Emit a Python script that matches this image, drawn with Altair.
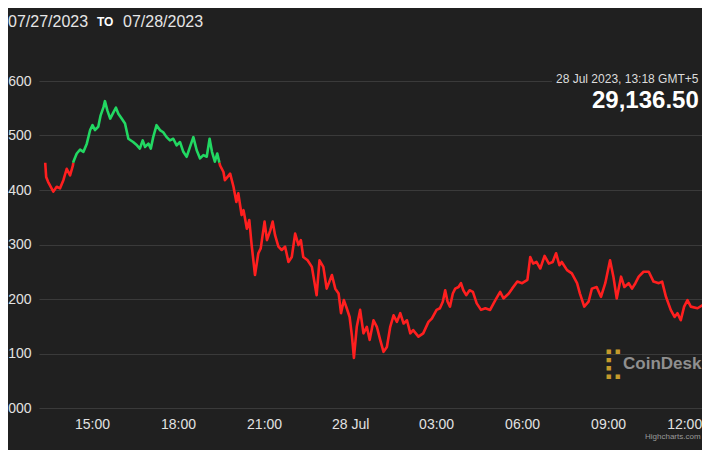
import altair as alt
import pandas as pd

# ---- data (minutes since 27 Jul 2023 00:00 UTC, price in USD) ----
minutes = [802, 804, 808, 819, 826, 833, 840, 847, 854, 860, 861, 868, 875, 882, 889, 896, 901, 906, 913, 918,
           924, 927, 932, 938, 945, 950, 955, 962, 969, 976, 986, 994, 1000, 1006, 1011, 1018, 1023, 1028, 1035, 1042,
           1049, 1056, 1063, 1070, 1077, 1084, 1091, 1098, 1105, 1112, 1119, 1126, 1133, 1140, 1146, 1151, 1157, 1162, 1168, 1175,
           1178, 1189, 1196, 1202, 1206, 1213, 1217, 1224, 1229, 1234, 1241, 1248, 1253, 1261, 1266, 1273, 1278, 1283, 1290, 1297,
           1304, 1311, 1318, 1325, 1332, 1337, 1342, 1351, 1360, 1370, 1376, 1384, 1391, 1402, 1409, 1416, 1421, 1427, 1433, 1439,
           1444, 1448, 1454, 1461, 1468, 1475, 1481, 1489, 1496, 1503, 1510, 1517, 1524, 1531, 1538, 1545, 1552, 1559, 1566, 1572,
           1583, 1593, 1604, 1611, 1621, 1628, 1634, 1639, 1644, 1649, 1655, 1660, 1667, 1672, 1677, 1683, 1690, 1697, 1705, 1714,
           1723, 1733, 1744, 1754, 1761, 1772, 1779, 1790, 1800, 1811, 1817, 1823, 1830, 1838, 1847, 1856, 1864, 1871, 1878, 1883,
           1894, 1904, 1915, 1921, 1930, 1939, 1946, 1956, 1965, 1974, 1984, 1991, 1998, 2007, 2014, 2023, 2030, 2037, 2044, 2054,
           2065, 2075, 2086, 2093, 2101, 2111, 2119, 2125, 2132, 2139, 2146, 2153, 2167, 2178, 2188, 2195]
prices = [29450, 29424, 29415, 29397, 29406, 29403, 29418, 29439, 29427, 29445, 29452, 29467, 29474, 29470, 29485, 29510, 29519, 29510, 29516, 29537,
          29552, 29563, 29546, 29531, 29543, 29551, 29540, 29531, 29522, 29494, 29488, 29482, 29476, 29491, 29479, 29485, 29476, 29497, 29519, 29510,
          29506, 29497, 29491, 29494, 29482, 29488, 29470, 29461, 29479, 29497, 29473, 29458, 29464, 29461, 29494, 29470, 29452, 29467, 29445, 29433,
          29418, 29430, 29406, 29378, 29394, 29354, 29363, 29329, 29345, 29299, 29244, 29284, 29293, 29342, 29308, 29326, 29342, 29317, 29296, 29290,
          29296, 29268, 29277, 29320, 29299, 29308, 29277, 29271, 29259, 29207, 29271, 29259, 29219, 29244, 29219, 29210, 29174, 29198, 29183, 29167,
          29131, 29092, 29149, 29180, 29137, 29149, 29125, 29161, 29149, 29125, 29103, 29112, 29149, 29170, 29158, 29174, 29155, 29161, 29137, 29143,
          29131, 29137, 29158, 29164, 29180, 29183, 29195, 29216, 29195, 29186, 29210, 29219, 29222, 29229, 29216, 29207, 29216, 29213, 29192, 29180,
          29183, 29180, 29198, 29213, 29201, 29210, 29219, 29232, 29229, 29235, 29277, 29265, 29268, 29256, 29279, 29265, 29268, 29284, 29262, 29268,
          29253, 29247, 29229, 29210, 29186, 29195, 29219, 29222, 29204, 29229, 29271, 29241, 29201, 29241, 29222, 29229, 29219, 29229, 29241, 29250,
          29250, 29232, 29229, 29232, 29204, 29180, 29167, 29174, 29161, 29186, 29198, 29186, 29183, 29189, 29183, 29186]

THRESHOLD = 29450          # opening price: above = green, below = red
y_ticks = [29000, 29100, 29200, 29300, 29400, 29500, 29600]
x_tick_hours = [(27, 15), (27, 18), (27, 21), (28, 0), (28, 3), (28, 6), (28, 9), (28, 12)]

range_from = "07/27/2023"
range_to = "07/28/2023"
tooltip_date = "28 Jul 2023, 13:18 GMT+5"
tooltip_price = "29,136.50"

GREEN = "#22d862"
RED = "#ff1f1f"
BG = "#202020"
FONT = "Liberation Sans"

# ---- split the series into coloured runs at the threshold ----
rows = []
seg = 0
prev = None
for m, p in zip(minutes, prices):
    side = "up" if p >= THRESHOLD else "down"
    if prev is not None and side != prev[2]:
        pm, pp, ps = prev
        tc = pm + (THRESHOLD - pp) / (p - pp) * (m - pm)
        rows.append((tc, THRESHOLD, ps, seg))
        seg += 1
        rows.append((tc, THRESHOLD, side, seg))
    rows.append((m, p, side, seg))
    prev = (m, p, side)

df = pd.DataFrame(rows, columns=["minute", "price", "side", "seg"])
base = pd.Timestamp("2023-07-27")
df["time"] = [(base + pd.Timedelta(minutes=float(v))).strftime("%Y-%m-%dT%H:%M:%SZ") for v in df["minute"]]

x_domain = [alt.DateTime(year=2023, month=7, date=27, hours=13, minutes=9, utc=True),
            alt.DateTime(year=2023, month=7, date=28, hours=12, minutes=16, seconds=25, utc=True)]
x_values = [alt.DateTime(year=2023, month=7, date=d, hours=h, utc=True) for d, h in x_tick_hours]

x_enc = alt.X("time:T", title=None,
              scale=alt.Scale(type="utc", domain=x_domain),
              axis=alt.Axis(values=x_values, grid=False, domain=False, ticks=False,
                            labelExpr="utcFormat(datum.value, '%H') == '00' ? utcFormat(datum.value, '%d %b') : utcFormat(datum.value, '%H:%M')",
                            labelOffset={"condition": {"test": "utchours(datum.value) == 12", "value": -10}, "value": 0},
                            labelColor="#e2e2e2", labelFontSize=14, labelFont=FONT, labelPadding=9))
y_enc = alt.Y("price:Q", title=None,
              scale=alt.Scale(domain=[y_ticks[0], y_ticks[-1]], nice=False, zero=False),
              axis=alt.Axis(values=y_ticks, grid=True, gridColor="#3a3a3a", gridWidth=1,
                            domain=False, ticks=False,
                            labelExpr="slice(format(datum.value, '.0f'), 2)",
                            labelColor="#e2e2e2", labelFontSize=14, labelFont=FONT, labelPadding=8))

line = alt.Chart(df).mark_line(strokeWidth=2.6, strokeJoin="round", clip=True).encode(
    x=x_enc, y=y_enc,
    color=alt.Color("side:N", scale=alt.Scale(domain=["up", "down"], range=[GREEN, RED]), legend=None),
    detail="seg:N",
)


def label(text, x, y, size, color, weight="normal", font=FONT, align="left"):
    return alt.Chart(pd.DataFrame({"t": [text]})).mark_text(
        align=align, baseline="middle", fontSize=size, fontWeight=weight, color=color, font=font
    ).encode(x=alt.value(x), y=alt.value(y), text="t:N")


tip_bg = alt.Chart(pd.DataFrame({"t": [0]})).mark_rect(color=BG).encode(
    x=alt.value(513), x2=alt.value(663), y=alt.value(-11), y2=alt.value(7))

layers = [
    line,
    label(range_from, -31, -59, 16, "#e6e6e6"),
    label("TO", 58, -59, 12, "#ffffff", weight="bold"),
    label(range_to, 84, -59, 16, "#e6e6e6"),
    tip_bg,
    label(tooltip_date, 517, -2, 12, "#dcdcdc"),
    label(tooltip_price, 553, 20, 24, "#ffffff", weight="bold"),
    label("\u28cf", 563, 283, 30, "#c49a2c", font="DejaVu Sans"),
    label("CoinDesk", 584, 283, 17, "#8f8f8f", weight="bold"),
    label("Highcharts.com", 606, 356, 8, "#9a9a9a"),
]

chart = alt.layer(*layers).properties(
    width=663, height=327,
    autosize=alt.AutoSizeParams(type="none"),
    padding={"left": 31, "top": 73, "right": 0, "bottom": 42},
    background=BG,
).configure_view(stroke=None)

chart.save("out.html", embed_options={"renderer": "svg", "actions": False})
